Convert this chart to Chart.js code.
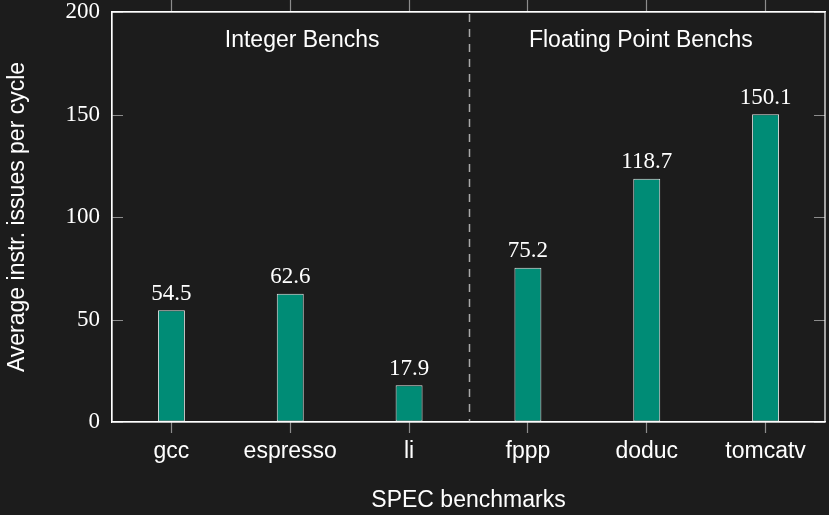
<!DOCTYPE html>
<html>
<head>
<meta charset="utf-8">
<script src="https://cdn.jsdelivr.net/npm/chart.js@4"></script>
<style>
  html, body { margin: 0; padding: 0; background: #1c1c1c; }
  #wrap { width: 829px; height: 515px; }
</style>
</head>
<body>
<div id="wrap"><canvas id="chart" width="829" height="515"></canvas></div>
<script>
// Benchmarks and their average instruction issues per cycle
const benchmarks = ['gcc', 'espresso', 'li', 'fppp', 'doduc', 'tomcatv'];
const issuesPerCycle = [54.5, 62.6, 17.9, 75.2, 118.7, 150.1];
const yTicks = [0, 50, 100, 150, 200];
// Group captions: text, position along the category axis, height in data units
const groupNames = ['Integer Benchs', 'Floating Point Benchs'];
const groupPositions = [1.1, 3.95];
const groupHeight = 186;
// The two groups are split after this many benchmarks
const splitAfter = 3;

const BG = '#1c1c1c';
const FG = '#ffffff';
const TICK = '#8c8c8c';
const SANS = "'Liberation Sans', Arial, sans-serif";
const SERIF = "'Liberation Serif', 'Times New Roman', serif";

const decorations = {
  id: 'decorations',
  beforeDraw(chart) {
    const ctx = chart.ctx;
    ctx.save();
    ctx.fillStyle = BG;
    ctx.fillRect(0, 0, chart.width, chart.height);
    ctx.restore();
  },
  beforeDatasetsDraw(chart) {
    const ctx = chart.ctx;
    const { left, right, top, bottom } = chart.chartArea;
    const x = chart.scales.x, y = chart.scales.y;
    ctx.save();
    // dashed separator between the integer and floating point groups
    const sx = Math.round((x.getPixelForValue(splitAfter - 1) + x.getPixelForValue(splitAfter)) / 2) + 0.5;
    ctx.strokeStyle = '#a8a8a8';
    ctx.lineWidth = 1.5;
    ctx.setLineDash([8, 7]);
    ctx.beginPath();
    ctx.moveTo(sx, top + 2);
    ctx.lineTo(sx, bottom);
    ctx.stroke();
    ctx.setLineDash([]);
    // inward value ticks on both sides
    ctx.strokeStyle = TICK;
    ctx.lineWidth = 1.2;
    yTicks.forEach(v => {
      const py = Math.round(y.getPixelForValue(v)) + 0.5;
      ctx.beginPath();
      ctx.moveTo(left, py); ctx.lineTo(left + 11, py);
      ctx.moveTo(right, py); ctx.lineTo(right - 11, py);
      ctx.stroke();
    });
    // group captions
    ctx.fillStyle = FG;
    ctx.font = '23px ' + SANS;
    ctx.textAlign = 'center';
    ctx.textBaseline = 'middle';
    groupNames.forEach((name, i) => {
      ctx.fillText(name, x.getPixelForValue(groupPositions[i]), y.getPixelForValue(groupHeight));
    });
    ctx.restore();
  },
  afterDatasetsDraw(chart) {
    const ctx = chart.ctx;
    const { left, right, top, bottom } = chart.chartArea;
    ctx.save();
    // value labels over each bar
    ctx.fillStyle = FG;
    ctx.font = '23px ' + SERIF;
    ctx.textAlign = 'center';
    ctx.textBaseline = 'alphabetic';
    chart.getDatasetMeta(0).data.forEach((bar, i) => {
      ctx.fillText(issuesPerCycle[i].toFixed(1), bar.x, bar.y - 10.5);
    });
    // plot frame
    ctx.strokeStyle = FG;
    ctx.lineWidth = 1.2;
    ctx.strokeRect(left, top, right - left, bottom - top);
    ctx.restore();
  }
};

new Chart(document.getElementById('chart'), {
  type: 'bar',
  data: {
    labels: benchmarks,
    datasets: [{
      data: issuesPerCycle,
      backgroundColor: '#008c76',
      borderColor: '#e6e6e6',
      borderWidth: 1,
      borderSkipped: false,
      categoryPercentage: 1,
      barPercentage: 0.227
    }]
  },
  options: {
    responsive: false,
    animation: false,
    devicePixelRatio: 1,
    layout: { padding: { top: 0, right: 4, bottom: 0, left: 0 } },
    plugins: { legend: { display: false }, tooltip: { enabled: false } },
    scales: {
      x: {
        position: 'bottom',
        offset: true,
        grid: { offset: false, drawOnChartArea: false, drawTicks: true, tickLength: 11, tickColor: TICK, tickWidth: 1.2 },
        border: { display: true, color: FG, width: 1.2 },
        ticks: { color: FG, font: { family: SANS, size: 23 }, padding: 5, maxRotation: 0, autoSkip: false },
        title: { display: true, text: 'SPEC benchmarks', color: FG, font: { family: SANS, size: 23 }, padding: { top: 0, bottom: 1 } },
        afterFit(scale) { scale.height = 93; scale.paddingLeft = 0; scale.paddingRight = 0; }
      },
      x2: {
        type: 'category',
        position: 'top',
        offset: true,
        grid: { offset: false, drawOnChartArea: false, drawTicks: true, tickLength: 12, tickColor: TICK, tickWidth: 1.2 },
        border: { display: true, color: FG, width: 1.2 },
        ticks: { display: false },
        afterFit(scale) { scale.height = 12; scale.paddingLeft = 0; scale.paddingRight = 0; }
      },
      y: {
        position: 'left',
        min: 0,
        max: 200,
        afterBuildTicks(scale) { scale.ticks = yTicks.map(v => ({ value: v })); },
        grid: { drawOnChartArea: false, drawTicks: false },
        border: { display: true, color: FG, width: 1.2 },
        ticks: { color: FG, font: { family: SERIF, size: 23 }, padding: 12 },
        title: { display: true, text: 'Average instr. issues per cycle', color: FG, font: { family: SANS, size: 23 }, padding: { top: 4, bottom: 0 } },
        afterFit(scale) { scale.width = 112; scale.paddingTop = 0; scale.paddingBottom = 0; }
      }
    }
  },
  plugins: [decorations]
});
</script>
</body>
</html>
